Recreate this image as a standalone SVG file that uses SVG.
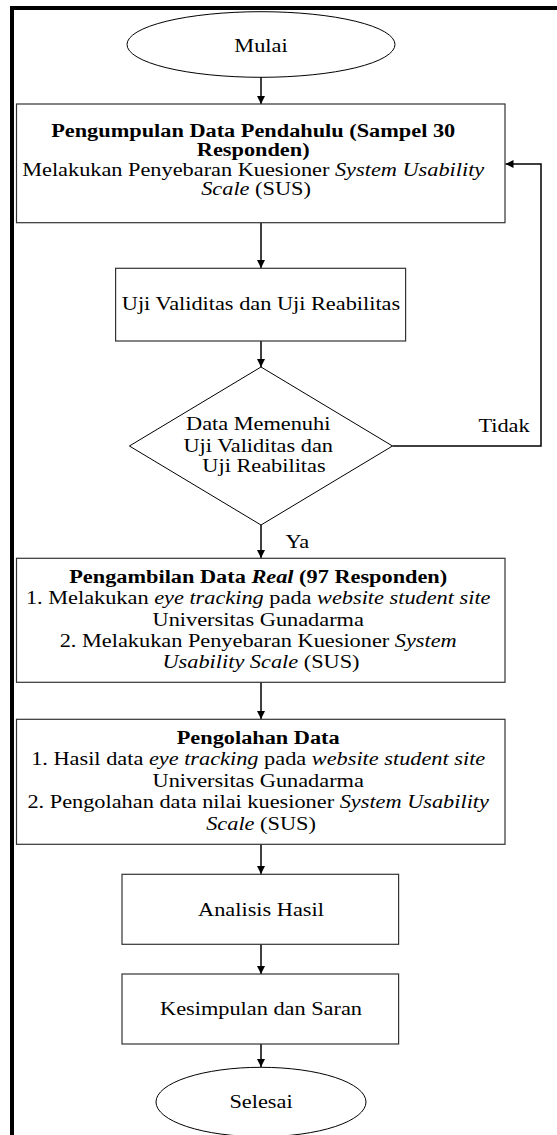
<svg xmlns="http://www.w3.org/2000/svg" width="557" height="1135" viewBox="0 0 557 1135">
<defs>
<marker id="ah" markerUnits="userSpaceOnUse" viewBox="0 0 10 10" refX="10" refY="5" markerWidth="9" markerHeight="8" orient="auto">
<path d="M0,0 L10,5 L0,10 z" fill="#000"/>
</marker>
<style>
.box{fill:#fff;stroke:#333;stroke-width:1.2}
.shape{fill:#fff;stroke:#000;stroke-width:1}
.t{font-family:"Liberation Serif","Times New Roman",serif;font-size:18.6px;fill:#000;text-anchor:middle}
.b{font-weight:bold}
.i{font-style:italic}
.cn{fill:none;stroke:#000;stroke-width:1.5}
</style>
</defs>
<rect width="557" height="1135" fill="#fff"/>
<path d="M12,1135 V8 H557" fill="none" stroke="#000" stroke-width="4"/>

<g id="connectors">
<line class="cn" x1="261" y1="77" x2="261" y2="104" marker-end="url(#ah)"/>
<line class="cn" x1="261" y1="223" x2="261" y2="268" marker-end="url(#ah)"/>
<line class="cn" x1="261" y1="341" x2="261" y2="367" marker-end="url(#ah)"/>
<line class="cn" x1="261" y1="525" x2="261" y2="558" marker-end="url(#ah)"/>
<line class="cn" x1="261" y1="682" x2="261" y2="719" marker-end="url(#ah)"/>
<line class="cn" x1="261" y1="844" x2="261" y2="874" marker-end="url(#ah)"/>
<line class="cn" x1="261" y1="944" x2="261" y2="974" marker-end="url(#ah)"/>
<line class="cn" x1="261" y1="1044" x2="261" y2="1067" marker-end="url(#ah)"/>
<path class="cn" d="M392.5,446 H541 V164 H505.5" marker-end="url(#ah)"/>
<text class="t" transform="translate(504 0) scale(1.2 1)"><tspan x="0" y="432">Tidak</tspan></text>
<text class="t" style="text-anchor:start" transform="translate(285.5 0) scale(1.2 1)"><tspan x="0" y="548">Ya</tspan></text>
</g>

<g id="mulai">
<ellipse class="shape" cx="261" cy="44.5" rx="134" ry="32.8"/>
<text class="t" transform="translate(261 0) scale(1.2 1)"><tspan x="0" y="51.7">Mulai</tspan></text>
</g>

<g id="pengumpulan">
<rect class="box" x="16.5" y="104" width="488.5" height="118.7"/>
<text class="t" transform="translate(256 0) scale(1.2 1)">
<tspan class="b" x="0" y="136.7">Pengumpulan Data Pendahulu (Sampel 30</tspan>
<tspan class="b" x="0" y="156">Responden)</tspan>
<tspan x="0" y="175.7">Melakukan Penyebaran Kuesioner <tspan class="i">System Usability</tspan></tspan>
<tspan x="0" y="195"><tspan class="i">Scale</tspan> (SUS)</tspan>
</text>
</g>

<g id="uji">
<rect class="box" x="115.6" y="268.3" width="290" height="72.7"/>
<text class="t" transform="translate(261 0) scale(1.2 1)"><tspan x="0" y="310">Uji Validitas dan Uji Reabilitas</tspan></text>
</g>

<g id="keputusan">
<polygon class="shape" points="261,367 392.5,446 261,525 129.4,446"/>
<text class="t" transform="translate(261 0) scale(1.2 1)">
<tspan x="0" y="430">Data Memenuhi</tspan>
<tspan x="0" y="451.7">Uji Validitas dan</tspan>
<tspan x="2.5" y="471.7">Uji Reabilitas</tspan>
</text>
</g>

<g id="pengambilan">
<rect class="box" x="16.5" y="558.3" width="488.5" height="124"/>
<text class="t" transform="translate(261 0) scale(1.2 1)">
<tspan class="b" x="0" y="583.3">Pengambilan Data <tspan class="i">Real</tspan> (97 Responden)</tspan>
<tspan x="0" y="604.5">1. Melakukan <tspan class="i">eye tracking</tspan> pada <tspan class="i">website student site</tspan></tspan>
<tspan x="0" y="626">Universitas Gunadarma</tspan>
<tspan x="0" y="647.2">2. Melakukan Penyebaran Kuesioner <tspan class="i">System</tspan></tspan>
<tspan x="0" y="668.3"><tspan class="i">Usability Scale</tspan> (SUS)</tspan>
</text>
</g>

<g id="pengolahan">
<rect class="box" x="16.5" y="719.3" width="488.5" height="125"/>
<text class="t" transform="translate(261 0) scale(1.2 1)">
<tspan class="b" x="0" y="744.3">Pengolahan Data</tspan>
<tspan x="0" y="765.5">1. Hasil data <tspan class="i">eye tracking</tspan> pada <tspan class="i">website student site</tspan></tspan>
<tspan x="0" y="787">Universitas Gunadarma</tspan>
<tspan x="0" y="808.5">2. Pengolahan data nilai kuesioner <tspan class="i">System Usability</tspan></tspan>
<tspan x="0" y="830"><tspan class="i">Scale</tspan> (SUS)</tspan>
</text>
</g>

<g id="analisis">
<rect class="box" x="122" y="874.3" width="276.6" height="70"/>
<text class="t" transform="translate(261 0) scale(1.2 1)"><tspan x="0" y="916">Analisis Hasil</tspan></text>
</g>

<g id="kesimpulan">
<rect class="box" x="122" y="974" width="276.6" height="70"/>
<text class="t" transform="translate(261 0) scale(1.2 1)"><tspan x="0" y="1015">Kesimpulan dan Saran</tspan></text>
</g>

<g id="selesai">
<ellipse class="shape" cx="261" cy="1102" rx="105" ry="34.7"/>
<text class="t" transform="translate(261 0) scale(1.2 1)"><tspan x="0" y="1108">Selesai</tspan></text>
</g>
</svg>
